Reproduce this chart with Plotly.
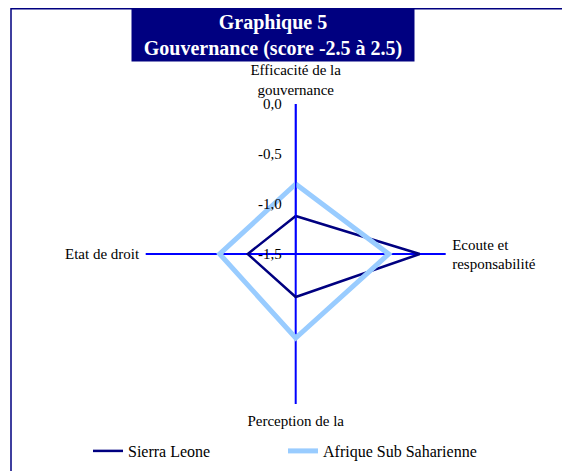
import plotly.graph_objects as go

# Gouvernance indicators (score -2.5 to 2.5), radar layout clockwise from top
categories = [
    "Efficacité de la<br>gouvernance",
    "Ecoute et<br>responsabilité",
    "Perception de la",
    "Etat de droit",
]
sierra_leone = [-1.12, -0.26, -1.07, -1.02]
afrique_ssa = [-0.80, -0.57, -0.66, -0.74]
radial_ticks = [-1.5, -1.0, -0.5, 0.0]
radial_labels = ["-1,5", "-1,0", "-0,5", "0,0"]

NAVY = "#000080"
LIGHT_BLUE = "#99CCFF"
AXIS_BLUE = "#0000FF"
FONT = "Times New Roman"

# page body keeps its default 8px margin, so the figure is a bit smaller
W, H = 562, 463
OFF = 8


def px_x(x):
    return (x - OFF) / W


def px_y(y):
    return 1 - (y - OFF) / H


def closed(values):
    return values + values[:1]


fig = go.Figure()
fig.add_trace(
    go.Scatterpolar(
        r=closed(sierra_leone),
        theta=closed(categories),
        mode="lines",
        name="Sierra Leone",
        line=dict(color=NAVY, width=2.5),
    )
)
fig.add_trace(
    go.Scatterpolar(
        r=closed(afrique_ssa),
        theta=closed(categories),
        mode="lines",
        name="Afrique Sub Saharienne",
        line=dict(color=LIGHT_BLUE, width=5),
    )
)

fig.update_layout(
    width=W,
    height=H,
    margin=dict(l=0, r=0, t=0, b=0, autoexpand=False),
    paper_bgcolor="white",
    font=dict(family=FONT, size=16, color="black"),
    polar=dict(
        domain=dict(x=[px_x(145.7), px_x(445.7)], y=[px_y(404), px_y(104)]),
        bgcolor="white",
        gridshape="linear",
        radialaxis=dict(
            range=[-1.5, 0.0],
            tickvals=radial_ticks,
            ticktext=radial_labels,
            angle=90,
            tickangle=90,
            side="counterclockwise",
            showgrid=False,
            showline=True,
            linecolor=AXIS_BLUE,
            linewidth=1.5,
            ticks="outside",
            ticklen=8,
            tickcolor="rgba(0,0,0,0)",
            tickfont=dict(family=FONT, size=15),
        ),
        angularaxis=dict(
            rotation=90,
            direction="clockwise",
            showline=False,
            showgrid=True,
            gridcolor=AXIS_BLUE,
            gridwidth=1.5,
            ticks="outside",
            ticklen=3,
            tickcolor="rgba(0,0,0,0)",
            tickfont=dict(family=FONT, size=15),
        ),
    ),
    showlegend=True,
    legend=dict(
        orientation="h",
        x=80 / W,
        xanchor="left",
        y=1 - 443 / H,
        yanchor="middle",
        entrywidth=150,
        entrywidthmode="pixels",
        font=dict(family=FONT, size=16),
        bgcolor="rgba(0,0,0,0)",
    ),
)

# Outer frame of the chart
fig.add_shape(
    type="rect",
    xref="paper",
    yref="paper",
    x0=px_x(11),
    x1=1.2,
    y0=-0.2,
    y1=1 - 0.75 / H,
    line=dict(color=NAVY, width=1.5),
    layer="below",
)

# Title box
fig.add_annotation(
    xref="paper",
    yref="paper",
    x=px_x(273),
    y=px_y(35),
    xanchor="center",
    yanchor="middle",
    text="<b>Graphique 5<br>Gouvernance (score -2.5 à 2.5)</b>",
    showarrow=False,
    font=dict(family=FONT, size=20, color="white"),
    bgcolor=NAVY,
    width=280,
    height=50,
    align="center",
)

fig.write_html("out.html")
